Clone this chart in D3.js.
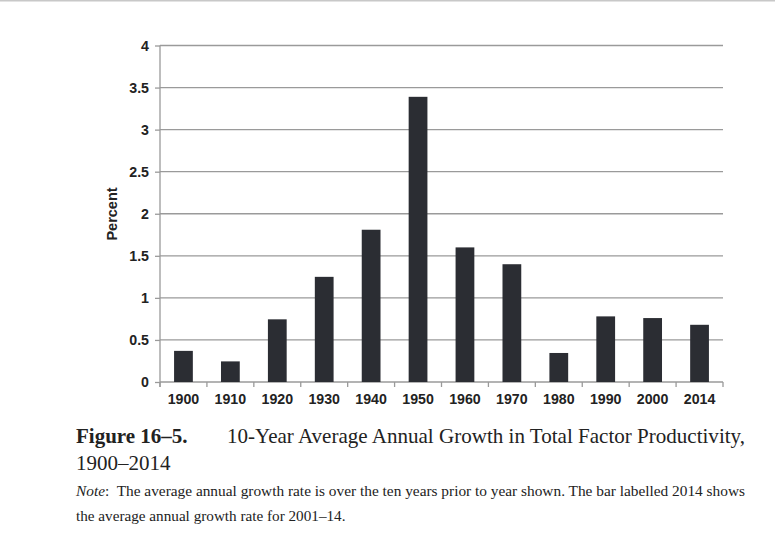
<!DOCTYPE html>
<html><head><meta charset="utf-8">
<script src="https://cdn.jsdelivr.net/npm/d3@7"></script>
<style>body{margin:0;background:#fff}svg{display:block}</style>
</head><body>
<script>
const categories = ["1900","1910","1920","1930","1940","1950","1960","1970","1980","1990","2000","2014"];
const values = [0.37,0.245,0.745,1.25,1.81,3.39,1.60,1.40,0.345,0.78,0.76,0.68];
const yTicks = [0,0.5,1,1.5,2,2.5,3,3.5,4];
const yLabel = "Percent";
const figNum = "Figure 16–5.";
const titleLine1 = "10-Year Average Annual Growth in Total Factor Productivity,";
const titleLine2 = "1900–2014";
const noteLabel = "Note";
const noteLine1 = ":\u00a0 The average annual growth rate is over the ten years prior to year shown. The bar labelled 2014 shows";
const noteLine2 = "the average annual growth rate for 2001–14.";

(function(){
const W = 775, H = 545;
const svg = d3.select("body").append("svg").attr("width", W).attr("height", H);
svg.append("line").attr("x1",0).attr("x2",W).attr("y1",0.75).attr("y2",0.75).attr("stroke","#c8c8c8").attr("stroke-width",1.5);

const pLeft = 160, pRight = 723, pTop = 45.5, pBottom = 382;
const x = d3.scaleBand().domain(categories).range([pLeft, pRight]).paddingInner(0.6).paddingOuter(0.3);
const y = d3.scaleLinear().domain([0,4]).range([pBottom, pTop]);
const sans = "Liberation Sans, Arial, sans-serif";

svg.append("g").selectAll("line").data(yTicks).join("line")
  .attr("x1", pLeft).attr("x2", pRight).attr("y1", d=>y(d)).attr("y2", d=>y(d))
  .attr("stroke","#9a9a9a").attr("stroke-width",1.3);

const yAxis = d3.axisLeft(y).tickValues(yTicks).tickFormat(d3.format("~g")).tickSize(5).tickPadding(6);
const gy = svg.append("g").attr("transform",`translate(${pLeft},0)`).call(yAxis);
gy.select(".domain").remove();
gy.selectAll(".tick line").attr("stroke","#9a9a9a").attr("stroke-width",1.3);
gy.selectAll("text").attr("font-family",sans).attr("font-weight","bold").attr("font-size",14.2).attr("fill","#222");
svg.append("line").attr("x1",pLeft).attr("x2",pLeft).attr("y1",pTop).attr("y2",pBottom+5).attr("stroke","#9a9a9a").attr("stroke-width",1.3);

svg.append("g").selectAll("rect").data(categories).join("rect")
  .attr("x", d=>x(d)).attr("width", x.bandwidth())
  .attr("y", (d,i)=>y(values[i])).attr("height", (d,i)=>y(0)-y(values[i]))
  .attr("fill","#2b2d33");

const boundaries = d3.range(categories.length+1).map(i=>pLeft + i*(pRight-pLeft)/categories.length);
svg.append("g").selectAll("line").data(boundaries).join("line")
  .attr("x1",d=>d).attr("x2",d=>d).attr("y1",pBottom).attr("y2",pBottom+5)
  .attr("stroke","#9a9a9a").attr("stroke-width",1.3);
svg.append("g").selectAll("text").data(categories).join("text")
  .attr("x", d=>x(d)+x.bandwidth()/2).attr("y", 404).attr("text-anchor","middle")
  .attr("font-family",sans).attr("font-weight","bold").attr("font-size",14.2).attr("fill","#222")
  .text(d=>d);

svg.append("text").attr("transform","translate(117,214) rotate(-90)").attr("text-anchor","middle")
  .attr("font-family",sans).attr("font-weight","bold").attr("font-size",14.5).attr("fill","#222")
  .text(yLabel);

const serif = "Liberation Serif, 'Times New Roman', serif";
svg.append("text").attr("x",76).attr("y",443).attr("font-family",serif).attr("font-weight","bold").attr("font-size",21).attr("fill","#222").text(figNum);
svg.append("text").attr("x",227).attr("y",443).attr("font-family",serif).attr("font-size",21).attr("fill","#222")
  .attr("textLength",518).attr("lengthAdjust","spacingAndGlyphs").text(titleLine1);
svg.append("text").attr("x",76).attr("y",470).attr("font-family",serif).attr("font-size",21).attr("fill","#222").text(titleLine2);
const n1 = svg.append("text").attr("x",76).attr("y",496).attr("font-family",serif).attr("font-size",15.2).attr("fill","#222")
  .attr("textLength",669).attr("lengthAdjust","spacingAndGlyphs");
n1.append("tspan").attr("font-style","italic").text(noteLabel);
n1.append("tspan").text(noteLine1);
svg.append("text").attr("x",76).attr("y",521).attr("font-family",serif).attr("font-size",15.2).attr("fill","#222").text(noteLine2);
})();
</script>
</body></html>
